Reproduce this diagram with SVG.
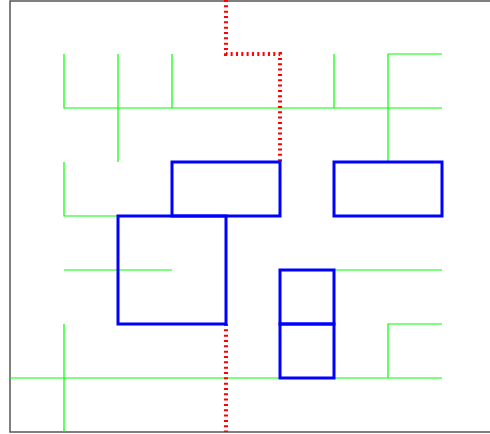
<svg xmlns="http://www.w3.org/2000/svg" width="490" height="434" viewBox="0 0 490 434">
<style>
.frame{fill:none;stroke:#555;stroke-width:1.5}
.node{fill:none;stroke:#0000ff;stroke-width:3}
.wire{fill:none;stroke:#00ff00;stroke-width:1.2}
.route{fill:none;stroke:#ff0000;stroke-width:4;stroke-dasharray:2 3.33}
</style>
<rect class="frame" x="10" y="1" width="490" height="431"/>
<g id="connectors">
<path class="wire" d="M64,54V108H442M118,54V162M172,54V108M334,54V108M388,162V54H442"/>
<path class="wire" d="M64,162V216H118M64,270H172M334,270H442"/>
<path class="wire" d="M64,324V432M10,378H280M334,378H442M388,378V324H442"/>
<path class="route" d="M226,0V54H280V162"/>
<path class="route" d="M226,324V432"/>
</g>
<g id="node1"><rect class="node" x="172" y="162" width="108" height="54"/></g>
<g id="node2"><rect class="node" x="334" y="162" width="108" height="54"/></g>
<g id="node3"><rect class="node" x="118" y="216" width="108" height="108"/></g>
<g id="node4"><rect class="node" x="280" y="270" width="54" height="54"/></g>
<g id="node5"><rect class="node" x="280" y="324" width="54" height="54"/></g>
</svg>
